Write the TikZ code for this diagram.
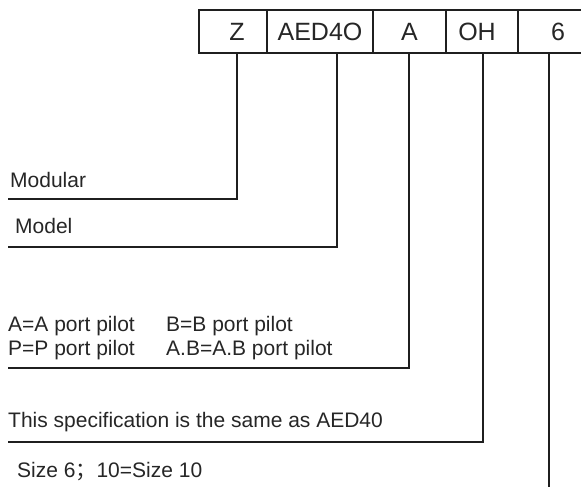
\documentclass[tikz,border=0pt]{standalone}
\usepackage{fontspec}
\setmainfont{Liberation Sans}
\newfontfamily\cjkfont{Noto Sans CJK SC}
\begin{document}
\begin{tikzpicture}[x=1pt,y=-1pt,
  ink/.style={draw=black!88, line width=1.1pt},
  cell/.style={ink, minimum height=43pt, inner sep=0pt, text height=18pt, text depth=0pt,
    font=\fontsize{25}{25}\selectfont, text=black!85},
  lbl/.style={anchor=base west, inner sep=0pt, font=\fontsize{21}{21}\selectfont, text=black!85},
  lead/.style={ink}]
\useasboundingbox (0,0) rectangle (581,487);
\clip (0,0) rectangle (581,487);
% code boxes
\node[cell, minimum width=68pt] (cz) at (233,31.5) {\hspace*{8pt}Z};
\node[cell, minimum width=106pt] (cm) at (320,31.5) {AED4O};
\node[cell, minimum width=73pt] (ca) at (409.5,31.5) {A};
\node[cell, minimum width=72pt] (co) at (482,31.5) {OH\hspace*{10pt}};
\node[cell, minimum width=80pt] (cs) at (558,31.5) {6};
% lead line start points (box bottom)
\coordinate (tz) at (237,53);
\coordinate (tm) at (337,53);
\coordinate (ta) at (409,53);
\coordinate (to) at (483,53);
\coordinate (ts) at (549,53);
% lead line ends
\coordinate (ez) at (8,199);
\coordinate (em) at (8,247);
\coordinate (ea) at (8,368);
\coordinate (eo) at (8,442);
\coordinate (es) at (549,487);
\draw[lead] (tz) |- (ez);
\draw[lead] (tm) |- (em);
\draw[lead] (ta) |- (ea);
\draw[lead] (to) |- (eo);
\draw[lead] (ts) -- (es);
% labels
\node[lbl] (lmod) at (10,187) {Modular};
\node[lbl] (lmodel) at (15,233) {Model};
\node[lbl] (la1) at (8,331) {A=A port pilot};
\node[lbl] (lb1) at (166,331) {B=B port pilot};
\node[lbl] (lp1) at (8,355) {P=P port pilot};
\node[lbl] (lab1) at (166,355) {A.B=A.B port pilot};
\node[lbl] (lspec) at (8,427) {This specification is the same as AED40};
\node[lbl] (lsize) at (17,477) {Size 6{\cjkfont ；}10=Size 10};
\end{tikzpicture}
\end{document}
